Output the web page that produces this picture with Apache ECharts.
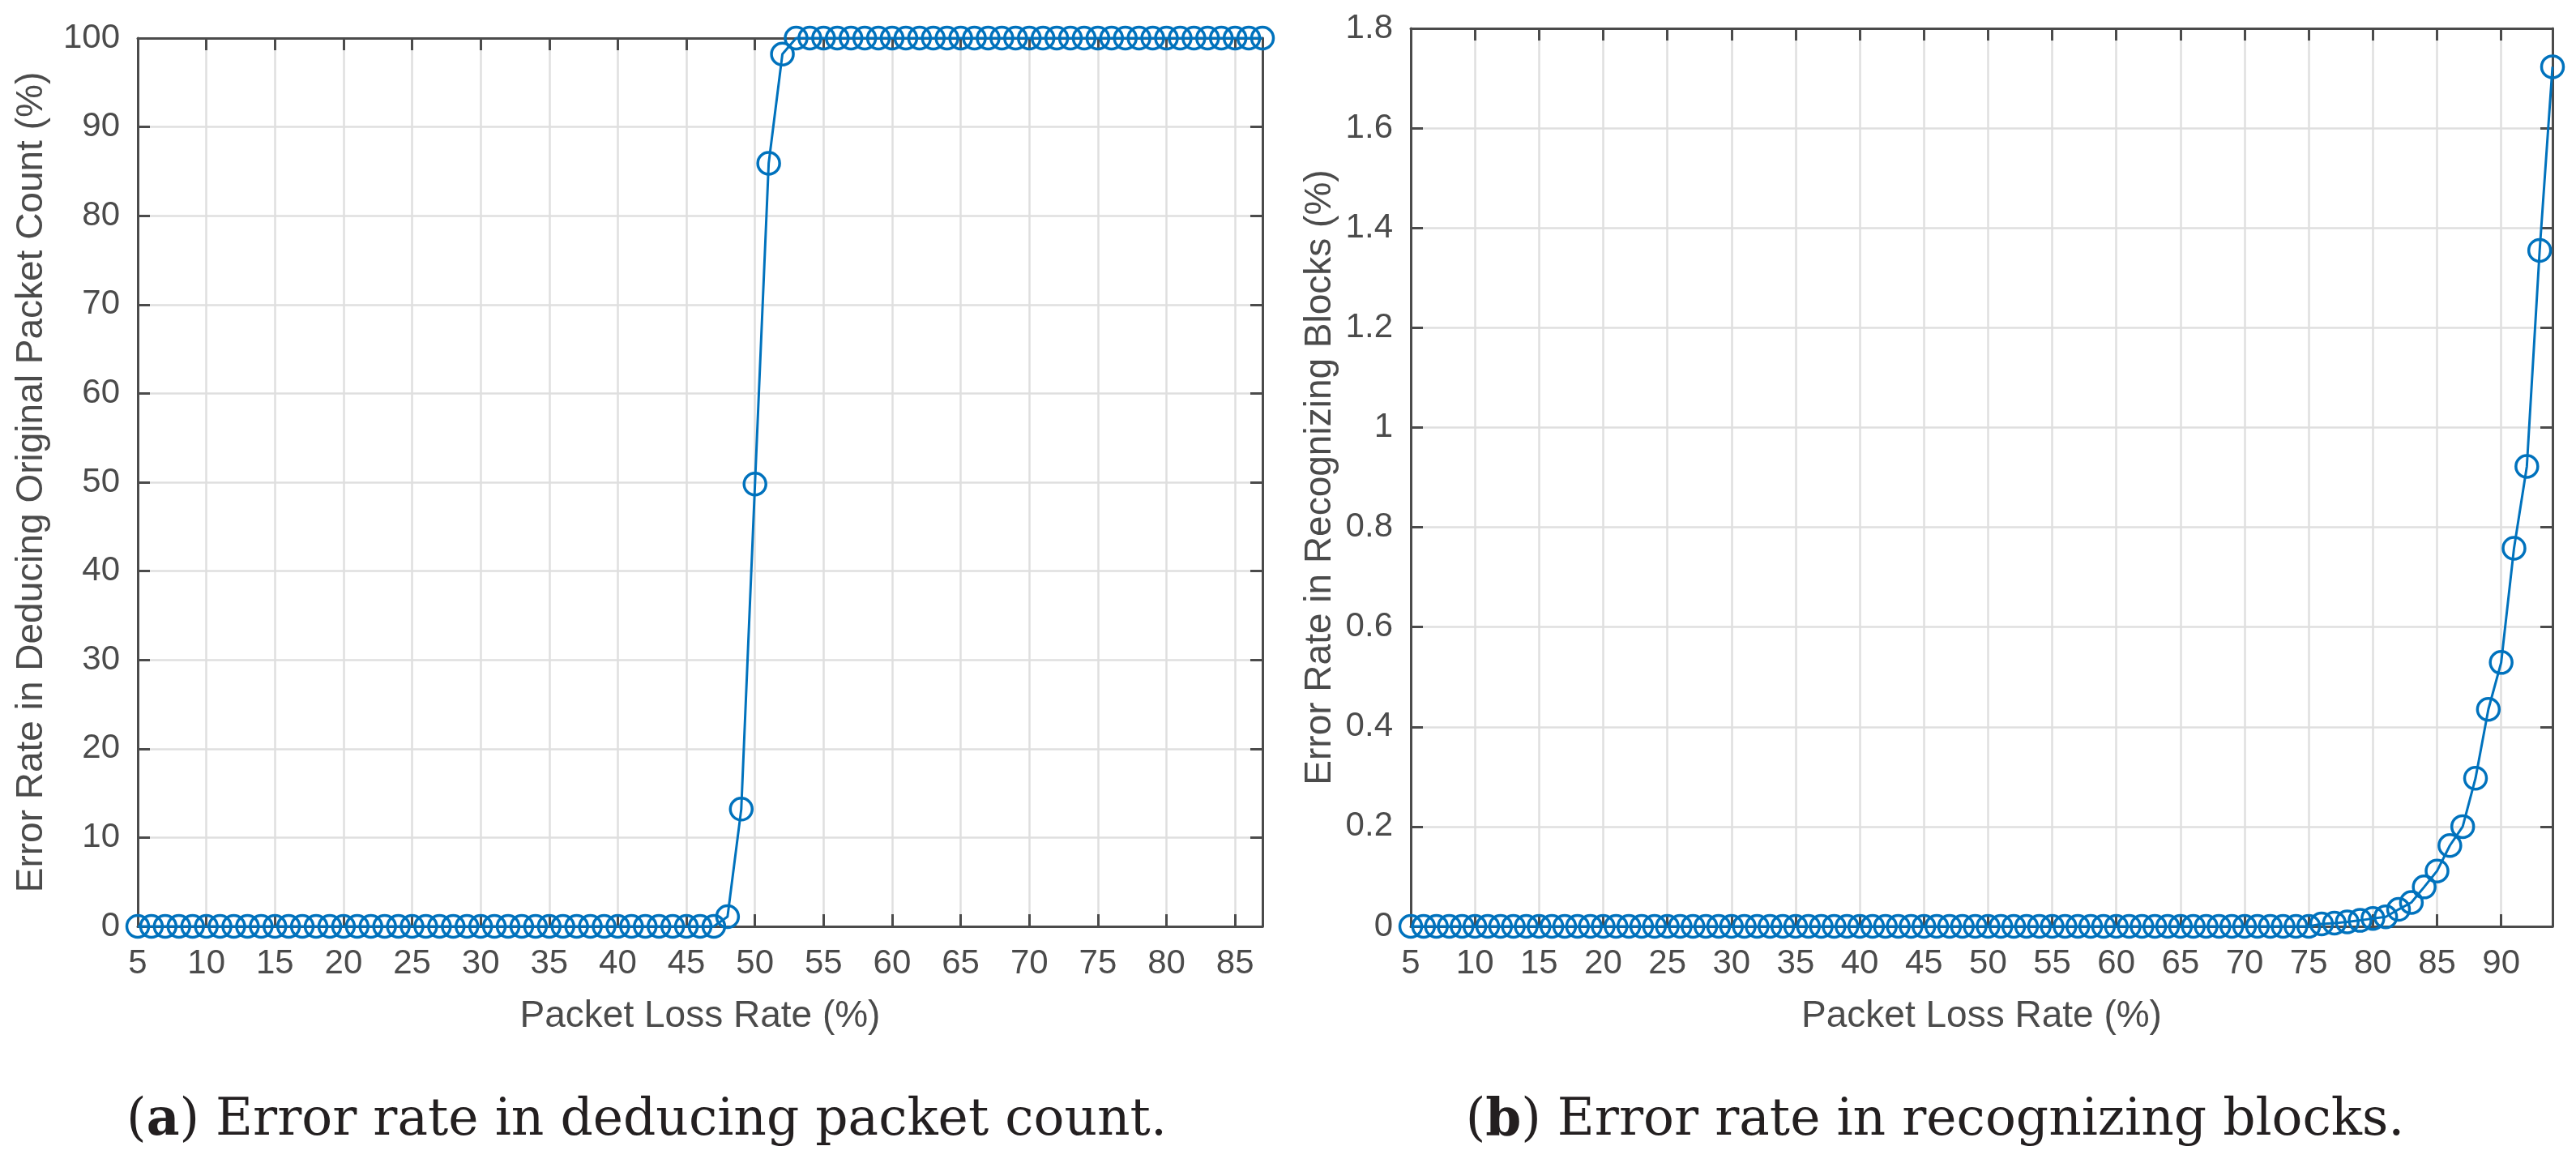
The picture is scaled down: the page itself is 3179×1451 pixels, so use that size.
<!DOCTYPE html>
<html>
<head>
<meta charset="utf-8">
<script src="https://cdn.jsdelivr.net/npm/echarts@6/dist/echarts.min.js"></script>
<style>
html,body{margin:0;padding:0;background:#fff;}
#chart{width:3179px;height:1451px;}
</style>
</head>
<body>
<div id="chart"></div>
<script>
// ---- Data (a): error rate in deducing original packet count ----
var lossA = [5,6,7,8,9,10,11,12,13,14,15,16,17,18,19,20,21,22,23,24,25,26,27,28,29,30,31,32,33,34,35,36,37,38,39,40,41,42,43,44,45,46,47,48,49,50,51,52,53,54,55,56,57,58,59,60,61,62,63,64,65,66,67,68,69,70,71,72,73,74,75,76,77,78,79,80,81,82,83,84,85,86,87];
var errA = [0,0,0,0,0,0,0,0,0,0,0,0,0,0,0,0,0,0,0,0,0,0,0,0,0,0,0,0,0,0,0,0,0,0,0,0,0,0,0,0,0,0,0,
            1.1,13.2,49.8,85.9,98.2,
            100,100,100,100,100,100,100,100,100,100,100,100,100,100,100,100,100,100,100,100,100,100,100,100,100,100,100,100,100,100,100,100,100,100,100];
// ---- Data (b): error rate in recognizing blocks ----
var lossB = [5,6,7,8,9,10,11,12,13,14,15,16,17,18,19,20,21,22,23,24,25,26,27,28,29,30,31,32,33,34,35,36,37,38,39,40,41,42,43,44,45,46,47,48,49,50,51,52,53,54,55,56,57,58,59,60,61,62,63,64,65,66,67,68,69,70,71,72,73,74,75,76,77,78,79,80,81,82,83,84,85,86,87,88,89,90,91,92,93,94];
var errB = [0,0,0,0,0,0,0,0,0,0,0,0,0,0,0,0,0,0,0,0,0,0,0,0,0,0,0,0,0,0,0,0,0,0,0,0,0,0,0,0,0,0,0,0,0,0,0,0,0,0,0,0,0,0,0,0,0,0,0,0,0,0,0,0,0,0,0,0,0,0,0,
            0.005,0.0065,0.009,0.012,0.016,0.019,0.034,0.048,0.079,0.111,0.162,0.2,0.297,0.435,0.529,0.758,0.922,1.355,1.723];
// ---- Tick labels ----
var yTicksB = ['0','0.2','0.4','0.6','0.8','1','1.2','1.4','1.6','1.8'];

var xTitle = 'Packet Loss Rate (%)';
var yTitleA = 'Error Rate in Deducing Original Packet Count (%)';
var yTitleB = 'Error Rate in Recognizing Blocks (%)';
var captionA = '({b|a}) Error rate in deducing packet count.';
var captionB = '({b|b}) Error rate in recognizing blocks.';

var AX = '#4b4b4b';
var BLUE = '#0072BD';
var FONT = '"Liberation Sans", Arial, Helvetica, sans-serif';

function pairs(xs, ys){ return xs.map(function(x,i){ return [x, ys[i]]; }); }

function xAxisMain(grid, max, name){
  return {
    type:'value', gridIndex:grid, position:'bottom', min:5, max:max, interval:5,
    name:name, nameLocation:'middle', nameGap:88,
    nameTextStyle:{color:AX, fontSize:46, fontFamily:FONT},
    axisLine:{show:true, onZero:false, lineStyle:{color:AX, width:3}},
    axisTick:{show:true, inside:true, length:15, lineStyle:{color:AX, width:3}},
    axisLabel:{show:true, margin:25, color:AX, fontSize:42, fontFamily:FONT, showMaxLabel:false},
    splitLine:{show:true, lineStyle:{color:'#dfdfdf', width:2.5}}
  };
}
function xAxisTop(grid, max){
  return {
    type:'value', gridIndex:grid, position:'top', min:5, max:max, interval:5,
    axisLine:{show:true, onZero:false, lineStyle:{color:AX, width:3}},
    axisTick:{show:true, inside:true, length:15, lineStyle:{color:AX, width:3}},
    axisLabel:{show:false}, splitLine:{show:false}
  };
}
function yAxisMain(grid, max, interval, name, gap, fmt){
  return {
    type:'value', gridIndex:grid, position:'left', min:0, max:max, interval:interval,
    name:name, nameLocation:'middle', nameGap:gap,
    nameTextStyle:{color:AX, fontSize:46, fontFamily:FONT},
    axisLine:{show:true, onZero:false, lineStyle:{color:AX, width:3}},
    axisTick:{show:true, inside:true, length:15, lineStyle:{color:AX, width:3}},
    axisLabel:{show:true, margin:22, color:AX, fontSize:42, fontFamily:FONT, formatter:fmt},
    splitLine:{show:true, lineStyle:{color:'#dfdfdf', width:2.5}}
  };
}
function yAxisRight(grid, max, interval){
  return {
    type:'value', gridIndex:grid, position:'right', min:0, max:max, interval:interval,
    axisLine:{show:true, onZero:false, lineStyle:{color:AX, width:3}},
    axisTick:{show:true, inside:true, length:15, lineStyle:{color:AX, width:3}},
    axisLabel:{show:false}, splitLine:{show:false}
  };
}
function seriesOf(xi, yi, data){
  return {
    type:'line', xAxisIndex:xi, yAxisIndex:yi, data:data, clip:false,
    symbol:'circle', symbolSize:27, showAllSymbol:true,
    lineStyle:{color:BLUE, width:3},
    itemStyle:{color:'rgba(0,0,0,0)', borderColor:BLUE, borderWidth:3.5},
    emphasis:{disabled:true}, z:5
  };
}

var chart = echarts.init(document.getElementById('chart'), null, {renderer:'canvas'});
chart.setOption({
  animation:false,
  backgroundColor:'#ffffff',
  grid:[
    {left:170, top:47, width:1388, height:1096, containLabel:false},
    {left:1741, top:35, width:1409, height:1108, containLabel:false}
  ],
  xAxis:[
    xAxisMain(0, 87, xTitle),
    xAxisTop(0, 87),
    xAxisMain(1, 94, xTitle),
    xAxisTop(1, 94)
  ],
  yAxis:[
    yAxisMain(0, 100, 10, yTitleA, 108, null),
    yAxisRight(0, 100, 10),
    yAxisMain(1, 1.8, 0.2, yTitleB, 89, function(v){ return yTicksB[Math.round(v/0.2)]; }),
    yAxisRight(1, 1.8, 0.2)
  ],
  series:[
    seriesOf(0, 0, pairs(lossA, errA)),
    seriesOf(2, 2, pairs(lossB, errB))
  ],
  graphic:[
    {type:'text', left:null, x:798, y:1384, style:{text:captionA, x:0, y:0, align:'center', verticalAlign:'middle',
      fill:'#231f20', font:'63px "DejaVu Serif", serif',
      rich:{b:{fontWeight:'bold', fontSize:63, fontFamily:'"DejaVu Serif", serif', fill:'#231f20'}}}},
    {type:'text', x:2388, y:1384, style:{text:captionB, x:0, y:0, align:'center', verticalAlign:'middle',
      fill:'#231f20', font:'63px "DejaVu Serif", serif',
      rich:{b:{fontWeight:'bold', fontSize:63, fontFamily:'"DejaVu Serif", serif', fill:'#231f20'}}}}
  ]
});
</script>
</body>
</html>
